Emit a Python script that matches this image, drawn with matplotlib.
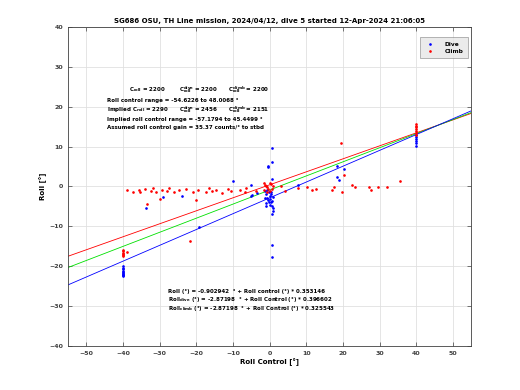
import numpy as np
import matplotlib.pyplot as plt

# --- data ---
dive_x = [-40, -40, -40, -40, -40, -40, -40, -40, -40, -40,
          -33.8, -29.0, -24.0, -19.4, -10.0, -5.2, -4.9, -3.4, -5.0,
          -0.4, 0.7, 0.7, 0.7, 0.7, 0.7, -0.4,
          -1.2, -1.0, -0.8, -0.5, -0.3, 0.0, 0.2, 0.4, 0.6, 0.8, 0.9,
          -1.1, -0.9, -0.6, -0.2, 0.1, 0.3, 0.5, 0.7, -1.3, 0.9, 0.6,
          7.8, 18.5, 18.5, 19.0, 20.4,
          40, 40, 40, 40, 40, 40]
dive_y = [-20.0, -20.4, -20.8, -21.1, -21.4, -21.7, -21.9, -22.1, -22.3, -22.5,
          -5.5, -2.7, -2.3, -10.3, 1.3, 0.3, -2.2, -1.7, -2.3,
          5.0, 6.0, 9.6, -14.8, -17.8, 1.8, 4.8,
          -1.2, -2.0, -2.8, -3.5, -1.5, -2.4, -3.2, -4.0, -4.8, -5.5, -6.2,
          -4.2, -5.0, -1.0, -3.8, -4.6, -2.0, -1.4, -6.8, -3.0, -2.6, -3.6,
          0.3, 5.1, 2.3, 1.7, 4.3,
          10.2, 10.8, 11.4, 12.0, 12.5, 12.9]

climb_x = [-40, -40, -40, -40, -40, -40, -39.0,
           -39.0, -37.4, -35.7, -35.4, -34.1, -32.5, -31.9, -30.9, -29.5, -28.1,
           -27.5, -26.1, -24.7, -22.9, -21.0, -19.5, -17.5, -16.5, -15.6, -14.5,
           -13.0, -11.3, -10.6, -8.1, -6.7, -6.5, -3.6,
           -33.4, -30.0, -20.1, -21.8,
           -1.6, -1.2, -0.8, -0.4, 0.0, 0.4, 0.8, -1.4, -0.6, 0.2, 0.6, -1.0,
           3.1, 4.1, 7.8, 10.3, 11.7, 12.6, 16.9, 17.6, 22.4, 23.3, 27.1, 27.6,
           29.6, 32.0, 19.5, 20.4, 19.8, 35.6,
           40, 40, 40, 40, 40, 40, 40]
climb_y = [-16.0, -16.3, -16.6, -16.9, -17.2, -17.5, -16.4,
           -0.9, -1.3, -0.8, -1.5, -0.7, -1.2, -0.4, -1.4, -0.8, -1.1,
           -0.3, -1.5, -1.0, -0.6, -1.3, -0.9, -1.4, -0.5, -1.1, -0.8,
           -1.6, -0.7, -1.2, -0.9, -1.4, -0.5, -1.1,
           -4.4, -3.1, -3.3, -13.8,
           0.8, 0.3, -0.2, -0.7, -1.2, 0.5, 0.0, -1.0, -1.5, 0.9, -0.6, 0.2,
           0.0, -1.1, -0.4, -0.2, -1.0, -0.7, -1.0, -0.2, 0.4, -0.2, -0.2, -1.0,
           -0.2, -0.2, 11.0, 2.8, -1.4, 1.3,
           12.8, 13.3, 13.8, 14.3, 14.8, 15.2, 15.6]

# fitted lines (intercept, slope) as drawn
fit_all = (-0.902942, 0.353146)
fit_dive = (-2.87198, 0.396602)
fit_climb = (0.4, 0.325543)

title = "SG686 OSU, TH Line mission, 2024/04/12, dive 5 started 12-Apr-2024 21:06:05"

fig = plt.figure(figsize=(5.2, 3.9), dpi=100)
ax = fig.add_axes([0.131, 0.113, 0.775, 0.818])

xl = np.array([-55, 55])
ax.plot(xl, fit_climb[0] + fit_climb[1] * xl, color='#ff0000', lw=0.6)
ax.plot(xl, fit_all[0] + fit_all[1] * xl, color='#00e000', lw=0.6)
ax.plot(xl, fit_dive[0] + fit_dive[1] * xl, color='#0000ff', lw=0.6)

ax.plot(dive_x, dive_y, '.', color='#0000ff', ms=1.8, label='Dive')
ax.plot(climb_x, climb_y, '.', color='#ff0000', ms=1.8, label='Climb')

ax.set_xlim(-55, 55)
ax.set_ylim(-40, 40)
ax.set_xticks(np.arange(-50, 51, 10))
ax.set_yticks(np.arange(-40, 41, 10))
ax.grid(True, color='#e0e0e0', lw=0.6)
ax.set_axisbelow(True)
ax.tick_params(direction='in', length=3, width=0.5, labelsize=4.5,
               top=True, right=True, colors='#404040')
for lab in ax.get_xticklabels() + ax.get_yticklabels():
    lab.set_fontweight('bold')
for s in ax.spines.values():
    s.set_linewidth(0.6)
    s.set_color('#404040')

ax.set_xlabel('Roll Control [°]', fontsize=5, fontweight='bold', labelpad=2)
ax.set_ylabel('Roll [°]', fontsize=5, fontweight='bold', labelpad=2)
ax.set_title(title, fontsize=5, fontweight='bold', pad=3)

leg = ax.legend(loc='upper right', bbox_to_anchor=(0.993, 0.968),
                borderaxespad=0, fontsize=4.2, markerscale=1.0,
                frameon=True, fancybox=False, borderpad=0.8,
                handletextpad=1.5, labelspacing=0.3)
leg.get_frame().set_facecolor('#e6e6e6')
leg.get_frame().set_edgecolor('#808080')
leg.get_frame().set_linewidth(0.5)
for t in leg.get_texts():
    t.set_fontweight('bold')

fs = 4.0
txt = dict(fontsize=fs, fontweight='bold', transform=ax.transData, va='center')
ax.text(-38.5, 24.2, r'C$_{\mathbf{roll}}$ = 2200', **txt)
ax.text(-24.8, 24.2, r'C$_{\mathbf{roll}}^{\mathbf{dive}}$ = 2200', **txt)
ax.text(-11.4, 24.2, r'C$_{\mathbf{roll}}^{\mathbf{climb}}$ = 2200', **txt)
ax.text(-44.5, 21.6, 'Roll control range = -54.6226 to 48.0068 °', **txt)
ax.text(-44.5, 19.3, r'Implied C$_{\mathbf{roll}}$ = 2290', **txt)
ax.text(-24.8, 19.3, r'C$_{\mathbf{roll}}^{\mathbf{dive}}$ = 2456', **txt)
ax.text(-11.4, 19.3, r'C$_{\mathbf{roll}}^{\mathbf{climb}}$ = 2151', **txt)
ax.text(-44.5, 16.9, 'Implied roll control range = -57.1794 to 45.4499 °', **txt)
ax.text(-44.5, 14.8, 'Assumed roll control gain = 35.37 counts/° to stbd', **txt)

ax.text(-27.8, -26.4, 'Roll (°) = -0.902942  ° + Roll control (°) * 0.353146', **txt)
ax.text(-27.8, -28.3, r'Roll$_{\mathbf{dive}}$ (°) = -2.87198  ° + Roll Control (°) * 0.396602', **txt)
ax.text(-27.8, -30.6, r'Roll$_{\mathbf{climb}}$ (°) = -2.87198  ° + Roll Control (°) * 0.325543', **txt)

fig.savefig('out.png', dpi=100)
